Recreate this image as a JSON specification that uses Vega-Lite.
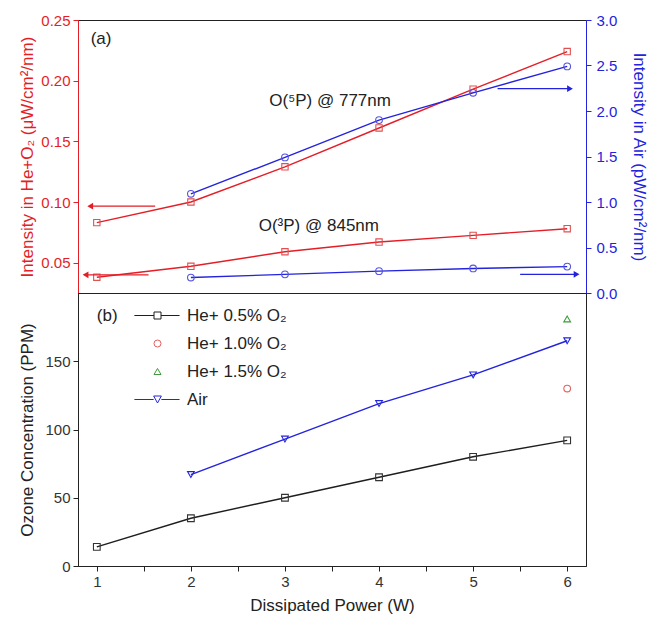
{
  "$schema": "https://vega.github.io/schema/vega-lite/v6.json",
  "background": "white",
  "padding": {"left": 18, "top": 12, "right": 3, "bottom": 10},
  "spacing": 0,
  "bounds": "flush",
  "config": {
    "font": "Liberation Sans",
    "view": {"stroke": "#222", "strokeWidth": 1},
    "axis": {"grid": false, "labelFont": "Liberation Sans", "titleFont": "Liberation Sans", "labelFontSize": 15, "titleFontSize": 17, "titleFontWeight": "normal", "tickSize": 5, "labelPadding": 3, "domainColor": "#222", "tickColor": "#222", "labelColor": "#333", "titleColor": "#222"},
    "legend": {"labelFont": "Liberation Sans", "labelFontSize": 17, "labelColor": "#222", "symbolSize": 49, "symbolStrokeWidth": 1, "labelOffset": 21, "rowPadding": 10, "padding": 0, "labelLimit": 300}
  },
  "datasets": {
    "heO2": [
      {"line": "777", "x": 1, "v": 0.083}, {"line": "777", "x": 2, "v": 0.100}, {"line": "777", "x": 3, "v": 0.129}, {"line": "777", "x": 4, "v": 0.161}, {"line": "777", "x": 5, "v": 0.193}, {"line": "777", "x": 6, "v": 0.224},
      {"line": "845", "x": 1, "v": 0.038}, {"line": "845", "x": 2, "v": 0.047}, {"line": "845", "x": 3, "v": 0.059}, {"line": "845", "x": 4, "v": 0.067}, {"line": "845", "x": 5, "v": 0.0725}, {"line": "845", "x": 6, "v": 0.078}
    ],
    "air": [
      {"line": "777", "x": 2, "r": 1.09}, {"line": "777", "x": 3, "r": 1.49}, {"line": "777", "x": 4, "r": 1.90}, {"line": "777", "x": 5, "r": 2.20}, {"line": "777", "x": 6, "r": 2.49},
      {"line": "845", "x": 2, "r": 0.17}, {"line": "845", "x": 3, "r": 0.205}, {"line": "845", "x": 4, "r": 0.24}, {"line": "845", "x": 5, "r": 0.27}, {"line": "845", "x": 6, "r": 0.29}
    ],
    "arrowsL": [
      {"x": 0.93, "x2": 1.62, "v": 0.0966},
      {"x": 0.88, "x2": 1.55, "v": 0.040}
    ],
    "arrowsR": [
      {"x": 5.26, "x2": 6.03, "r": 2.245},
      {"x": 5.5, "x2": 6.1, "r": 0.205}
    ],
    "textA": [
      {"x": 1.045, "v": 0.234, "label": "(a)"},
      {"x": 3.48, "v": 0.183, "label": "O(⁵P) @ 777nm"},
      {"x": 3.36, "v": 0.080, "label": "O(³P) @ 845nm"}
    ],
    "ozone": [
      {"series": "He+ 0.5% O₂", "x": 1, "ppm": 14}, {"series": "He+ 0.5% O₂", "x": 2, "ppm": 35}, {"series": "He+ 0.5% O₂", "x": 3, "ppm": 50}, {"series": "He+ 0.5% O₂", "x": 4, "ppm": 65}, {"series": "He+ 0.5% O₂", "x": 5, "ppm": 80}, {"series": "He+ 0.5% O₂", "x": 6, "ppm": 92},
      {"series": "He+ 1.0% O₂", "x": 6, "ppm": 130},
      {"series": "He+ 1.5% O₂", "x": 6, "ppm": 181},
      {"series": "Air", "x": 2, "ppm": 67}, {"series": "Air", "x": 3, "ppm": 93}, {"series": "Air", "x": 4, "ppm": 119}, {"series": "Air", "x": 5, "ppm": 140}, {"series": "Air", "x": 6, "ppm": 165}
    ],
    "textB": [
      {"x": 1.11, "ppm": 183, "label": "(b)"}
    ]
  },
  "vconcat": [
    {
      "width": 508,
      "height": 273,
      "layer": [
        {
          "layer": [
            {
              "data": {"name": "heO2"},
              "mark": {"type": "line", "color": "#e41e26", "strokeWidth": 1.4},
              "encoding": {
                "x": {"field": "x", "type": "quantitative", "scale": {"domain": [0.8, 6.2], "nice": false, "zero": false}, "axis": null},
                "y": {"field": "v", "type": "quantitative", "scale": {"domain": [0.025, 0.25], "nice": false, "zero": false},
                  "axis": {"orient": "left", "title": "Intensity in He+O₂ (μW/cm²/nm)", "values": [0.05, 0.075, 0.1, 0.125, 0.15, 0.175, 0.2, 0.225, 0.25],
                    "labelExpr": "(round(datum.value*1000) % 50 == 0) ? format(datum.value, '.2f') : ''",
                    "domainColor": "#e41e26", "tickColor": "#e41e26", "labelColor": "#e41e26", "titleColor": "#e41e26", "titlePadding": 4}},
                "detail": {"field": "line"}
              }
            },
            {
              "data": {"name": "heO2"},
              "mark": {"type": "point", "shape": "square", "filled": false, "color": "#e05050", "size": 40, "strokeWidth": 1.1, "opacity": 1},
              "encoding": {
                "x": {"field": "x", "type": "quantitative"},
                "y": {"field": "v", "type": "quantitative"}
              }
            },
            {
              "data": {"name": "arrowsL"},
              "mark": {"type": "rule", "color": "#e41e26", "strokeWidth": 1.3},
              "encoding": {
                "x": {"field": "x", "type": "quantitative"},
                "x2": {"field": "x2"},
                "y": {"field": "v", "type": "quantitative"}
              }
            },
            {
              "data": {"name": "arrowsL"},
              "mark": {"type": "point", "shape": "triangle-left", "filled": true, "color": "#e41e26", "size": 45, "opacity": 1},
              "encoding": {
                "x": {"field": "x", "type": "quantitative"},
                "y": {"field": "v", "type": "quantitative"}
              }
            },
            {
              "data": {"name": "textA"},
              "mark": {"type": "text", "font": "Liberation Sans", "fontSize": 17, "color": "#222"},
              "encoding": {
                "x": {"field": "x", "type": "quantitative"},
                "y": {"field": "v", "type": "quantitative"},
                "text": {"field": "label"}
              }
            }
          ]
        },
        {
          "layer": [
            {
              "data": {"name": "air"},
              "mark": {"type": "line", "color": "#2323dd", "strokeWidth": 1.4},
              "encoding": {
                "x": {"field": "x", "type": "quantitative"},
                "y": {"field": "r", "type": "quantitative", "scale": {"domain": [0, 3], "nice": false, "zero": false},
                  "axis": {"orient": "right", "title": "Intensity in Air (pW/cm²/nm)", "values": [0, 0.25, 0.5, 0.75, 1, 1.25, 1.5, 1.75, 2, 2.25, 2.5, 2.75, 3],
                    "labelExpr": "(round(datum.value*100) % 50 == 0) ? format(datum.value, '.1f') : ''",
                    "domainColor": "#2323dd", "tickColor": "#2323dd", "labelColor": "#2323dd", "titleColor": "#2323dd", "titlePadding": 13, "labelPadding": 5}},
                "detail": {"field": "line"}
              }
            },
            {
              "data": {"name": "air"},
              "mark": {"type": "point", "shape": "circle", "filled": false, "color": "#5555e0", "size": 45, "strokeWidth": 1.1, "opacity": 1},
              "encoding": {
                "x": {"field": "x", "type": "quantitative"},
                "y": {"field": "r", "type": "quantitative"}
              }
            },
            {
              "data": {"name": "arrowsR"},
              "mark": {"type": "rule", "color": "#2323dd", "strokeWidth": 1.3},
              "encoding": {
                "x": {"field": "x", "type": "quantitative"},
                "x2": {"field": "x2"},
                "y": {"field": "r", "type": "quantitative"}
              }
            },
            {
              "data": {"name": "arrowsR"},
              "mark": {"type": "point", "shape": "triangle-right", "filled": true, "color": "#2323dd", "size": 45, "opacity": 1},
              "encoding": {
                "x": {"field": "x2", "type": "quantitative"},
                "y": {"field": "r", "type": "quantitative"}
              }
            }
          ]
        }
      ],
      "resolve": {"scale": {"y": "independent"}}
    },
    {
      "width": 508,
      "height": 273,
      "layer": [
        {
          "data": {"name": "ozone"},
          "transform": [{"filter": "datum.series == 'He+ 0.5% O₂' || datum.series == 'Air'"}],
          "mark": {"type": "line", "strokeWidth": 1.4},
          "encoding": {
            "x": {"field": "x", "type": "quantitative", "scale": {"domain": [0.8, 6.2], "nice": false, "zero": false},
              "axis": {"title": "Dissipated Power (W)", "values": [1, 1.5, 2, 2.5, 3, 3.5, 4, 4.5, 5, 5.5, 6], "labelExpr": "datum.value % 1 == 0 ? format(datum.value, 'd') : ''", "titlePadding": 8}},
            "y": {"field": "ppm", "type": "quantitative", "scale": {"domain": [0, 200], "nice": false, "zero": true},
              "axis": {"title": "Ozone Concentration (PPM)", "values": [0, 25, 50, 75, 100, 125, 150, 175], "labelExpr": "datum.value % 50 == 0 ? format(datum.value, 'd') : ''", "titlePadding": 8}},
            "color": {"field": "series", "type": "nominal", "scale": {"domain": ["He+ 0.5% O₂", "He+ 1.0% O₂", "He+ 1.5% O₂", "Air"], "range": ["#1e1e1e", "#e06060", "#3a9a3a", "#2323dd"]}, "legend": null}
          }
        },
        {
          "data": {"name": "ozone"},
          "mark": {"type": "point", "filled": false, "size": 45, "strokeWidth": 1.1, "opacity": 1},
          "encoding": {
            "x": {"field": "x", "type": "quantitative"},
            "y": {"field": "ppm", "type": "quantitative"},
            "color": {"field": "series", "type": "nominal", "scale": {"domain": ["He+ 0.5% O₂", "He+ 1.0% O₂", "He+ 1.5% O₂", "Air"], "range": ["#333333", "#e06060", "#3a9a3a", "#2323dd"]}, "legend": null},
            "shape": {"field": "series", "type": "nominal", "scale": {"domain": ["He+ 0.5% O₂", "He+ 1.0% O₂", "He+ 1.5% O₂", "Air"], "range": ["square", "circle", "triangle-up", "triangle-down"]}, "legend": null}
          }
        },
        {
          "data": {"name": "ozone"},
          "transform": [{"filter": "datum.ppm < 0"}],
          "mark": {"type": "point", "filled": false, "strokeWidth": 1.1, "opacity": 1},
          "encoding": {
            "x": {"field": "x", "type": "quantitative"},
            "y": {"field": "ppm", "type": "quantitative"},
            "color": {"field": "series", "type": "nominal", "scale": {"domain": ["He+ 0.5% O₂", "He+ 1.0% O₂", "He+ 1.5% O₂", "Air"], "range": ["#1e1e1e", "#e06060", "#3a9a3a", "#2323dd"]},
              "legend": {"orient": "none", "legendX": 71, "legendY": 14, "title": null, "symbolOpacity": 1}},
            "shape": {"field": "series", "type": "nominal", "scale": {"domain": ["He+ 0.5% O₂", "He+ 1.0% O₂", "He+ 1.5% O₂", "Air"], "range": ["M-6.6,0H-1M1,0H6.3M-1,-1H1V1H-1Z", "circle", "triangle-up", "M-6.6,0H-1.1M1.1,0H6.3M-1.1,-1H1.1L0,1Z"]},
              "legend": {"orient": "none", "legendX": 71, "legendY": 14, "title": null, "symbolOpacity": 1}}
          }
        },
        {
          "data": {"name": "textB"},
          "mark": {"type": "text", "font": "Liberation Sans", "fontSize": 17, "color": "#222"},
          "encoding": {
            "x": {"field": "x", "type": "quantitative"},
            "y": {"field": "ppm", "type": "quantitative"},
            "text": {"field": "label"}
          }
        }
      ],
      "resolve": {"scale": {"color": "independent", "shape": "independent"}}
    }
  ]
}
